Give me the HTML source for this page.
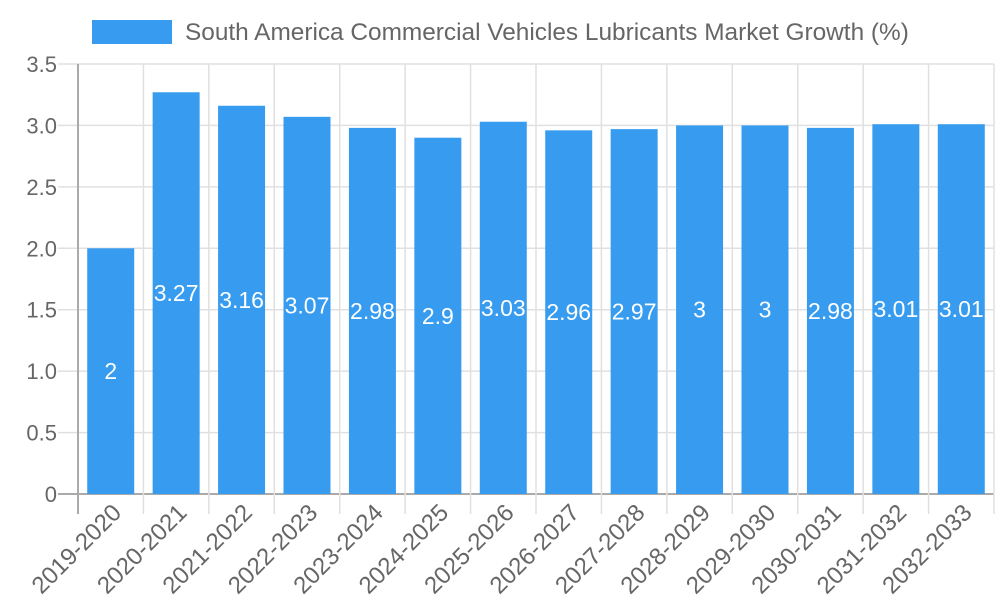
<!DOCTYPE html>
<html><head><meta charset="utf-8"><style>
body{margin:0;background:#fff;}
svg{display:block;font-family:"Liberation Sans",sans-serif;}
</style></head><body>
<svg id="chart" width="1000" height="600">
<rect x="92" y="20" width="80" height="24" fill="#379cef"></rect>
<text x="185" y="40" font-size="24.4" fill="#666">South America Commercial Vehicles Lubricants Market Growth (%)</text>
<g id="grid"></g><g id="bars"></g><g id="labels"></g>
</svg>
<script>
const categories=["2019-2020","2020-2021","2021-2022","2022-2023","2023-2024","2024-2025","2025-2026","2026-2027","2027-2028","2028-2029","2029-2030","2030-2031","2031-2032","2032-2033"];
const growthValues=[2,3.27,3.16,3.07,2.98,2.9,3.03,2.96,2.97,3,3,2.98,3.01,3.01];
const yTicks=[0,0.5,1,1.5,2,2.5,3,3.5];
const yTickLabels=["0","0.5","1.0","1.5","2.0","2.5","3.0","3.5"];
const NS="http://www.w3.org/2000/svg";
const L=78,R=994,T=64,B=494,yMax=3.5;
const bw=(R-L)/categories.length;
const y=v=>B-(v/yMax)*(B-T);
const xc=i=>L+bw*(i+0.5);
function mk(tag,attrs,parent,txt){const e=document.createElementNS(NS,tag);for(const k in attrs)e.setAttribute(k,attrs[k]);if(txt!==undefined)e.textContent=txt;parent.appendChild(e);return e;}
const grid=document.getElementById('grid'),bars=document.getElementById('bars'),labels=document.getElementById('labels');
yTicks.forEach((t,i)=>{
 const l=mk('line',{x1:58,x2:R,y1:y(t),y2:y(t),stroke:i==0?'#aaa':'#e0e0e0','stroke-width':i==0?2:1.5},grid);
 
 
 const tx=mk('text',{x:57,y:y(t)+8,'text-anchor':'end','font-size':22,fill:'#666'},grid,yTickLabels[i]);
 
 
});
for(let i=0;i<=categories.length;i++){
 const x=L+bw*i;
 const l=mk('line',{x1:x,x2:x,y1:T,y2:514,stroke:i==0?'#aaa':'#e0e0e0','stroke-width':i==0?2:1.5},grid);
 
 
}
categories.forEach((c,i)=>{
 const v=growthValues[i];
 const r=mk('rect',{x:xc(i)-23.5,y:y(v),width:47,height:B-y(v),fill:'#379cef'},bars);
 
 
 const vl=mk('text',{x:xc(i),y:(y(v)+B)/2+8,'text-anchor':'middle','font-size':23,fill:'#fff'},labels,String(v));
 
 
 const cx=xc(i)+12,cy=514;
 const xl=mk('text',{x:cx,y:cy,'text-anchor':'end','font-size':24,fill:'#666',transform:`rotate(-45 ${cx} ${cy})`},labels,c);
 
 
});
</script>
</body></html>
